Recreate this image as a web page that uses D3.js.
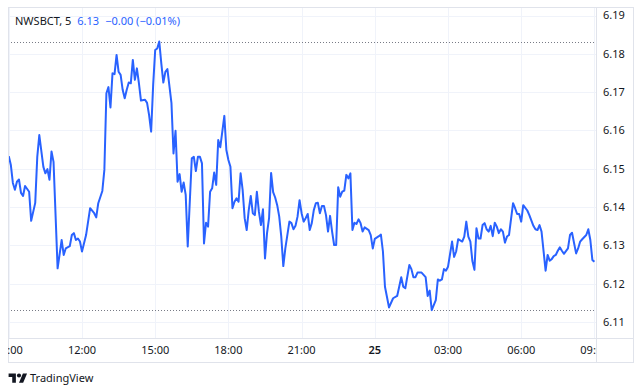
<!DOCTYPE html>
<html>
<head>
<meta charset="utf-8">
<script src="https://cdn.jsdelivr.net/npm/d3@7"></script>
<style>
  body { margin: 0; background: #fff; }
  svg { display: block; font-family: "Noto Sans", sans-serif; }
</style>
</head>
<body>
<svg width="640" height="391"></svg>
<script>
"use strict";

// 5분봉 종가 (시작 09:00 부터 경과 분, 값)
const minutes = [0, 5, 10, 15, 20, 25, 30, 35, 40, 50, 55, 65, 70, 75, 85, 90, 95, 100, 105, 110,
  120, 130, 135, 140, 150, 155, 160, 165, 170, 175, 180, 190, 200, 210, 215, 220, 230, 235, 240, 245,
  250, 255, 260, 265, 270, 275, 280, 285, 290, 295, 300, 305, 310, 315, 320, 325, 335, 340, 345, 350,
  355, 360, 365, 370, 375, 380, 385, 390, 400, 405, 410, 415, 420, 425, 430, 435, 440, 450, 455, 460,
  465, 470, 475, 480, 485, 490, 495, 500, 505, 510, 515, 520, 530, 535, 540, 545, 550, 555, 560, 565,
  570, 575, 580, 585, 590, 595, 600, 605, 610, 615, 620, 625, 630, 635, 640, 645, 650, 655, 660, 665,
  670, 675, 680, 690, 695, 700, 705, 710, 715, 720, 725, 730, 735, 740, 745, 750, 755, 760, 765, 770,
  775, 780, 785, 790, 795, 800, 805, 810, 815, 820, 825, 830, 835, 840, 845, 850, 855, 860, 865, 870,
  875, 885, 890, 895, 900, 910, 915, 920, 925, 935, 945, 955, 960, 965, 970, 975, 985, 990, 995, 1000,
  1005, 1015, 1025, 1030, 1035, 1040, 1050, 1055, 1060, 1065, 1070, 1075, 1080, 1090, 1095, 1100, 1105, 1115, 1120, 1125,
  1130, 1135, 1140, 1145, 1150, 1155, 1160, 1165, 1170, 1175, 1180, 1185, 1190, 1195, 1200, 1205, 1210, 1215, 1220, 1225,
  1230, 1240, 1245, 1250, 1255, 1260, 1265, 1275, 1280, 1290, 1295, 1300, 1305, 1310, 1320, 1325, 1330, 1335, 1340, 1345,
  1350, 1355, 1360, 1365, 1375, 1380, 1385, 1395, 1400, 1405, 1410, 1420, 1425, 1430, 1435, 1440];

const prices = [6.1533, 6.1510, 6.1463, 6.1445, 6.1466, 6.1472, 6.1437, 6.1429, 6.1455, 6.1440, 6.1364, 6.1411, 6.1531, 6.1588, 6.1505, 6.1488, 6.1499, 6.1471, 6.1545, 6.1518,
  6.1240, 6.1314, 6.1275, 6.1292, 6.1298, 6.1327, 6.1332, 6.1314, 6.1318, 6.1310, 6.1284, 6.1327, 6.1397, 6.1384, 6.1373, 6.1410, 6.1442, 6.1497, 6.1697, 6.1713,
  6.1660, 6.1749, 6.1747, 6.1797, 6.1753, 6.1745, 6.1706, 6.1684, 6.1706, 6.1725, 6.1723, 6.1784, 6.1732, 6.1762, 6.1723, 6.1678, 6.1680, 6.1672, 6.1640, 6.1597,
  6.1719, 6.1810, 6.1814, 6.1832, 6.1775, 6.1725, 6.1753, 6.1760, 6.1671, 6.1540, 6.1599, 6.1466, 6.1486, 6.1440, 6.1464, 6.1432, 6.1297, 6.1527, 6.1531, 6.1494,
  6.1531, 6.1531, 6.1514, 6.1305, 6.1359, 6.1349, 6.1440, 6.1449, 6.1490, 6.1458, 6.1575, 6.1556, 6.1638, 6.1549, 6.1523, 6.1505, 6.1397, 6.1414, 6.1423, 6.1414,
  6.1488, 6.1445, 6.1371, 6.1340, 6.1392, 6.1429, 6.1384, 6.1379, 6.1440, 6.1388, 6.1353, 6.1394, 6.1266, 6.1332, 6.1371, 6.1489, 6.1439, 6.1425, 6.1405, 6.1375,
  6.1323, 6.1246, 6.1292, 6.1362, 6.1358, 6.1342, 6.1351, 6.1375, 6.1418, 6.1384, 6.1362, 6.1371, 6.1382, 6.1340, 6.1358, 6.1392, 6.1410, 6.1411, 6.1384, 6.1403,
  6.1403, 6.1379, 6.1336, 6.1377, 6.1336, 6.1301, 6.1301, 6.1452, 6.1427, 6.1440, 6.1443, 6.1484, 6.1475, 6.1488, 6.1340, 6.1359, 6.1356, 6.1368, 6.1358, 6.1336,
  6.1347, 6.1340, 6.1327, 6.1292, 6.1317, 6.1324, 6.1328, 6.1284, 6.1192, 6.1138, 6.1162, 6.1168, 6.1192, 6.1217, 6.1192, 6.1188, 6.1249, 6.1238, 6.1217, 6.1217,
  6.1229, 6.1229, 6.1217, 6.1168, 6.1182, 6.1131, 6.1157, 6.1211, 6.1208, 6.1211, 6.1238, 6.1234, 6.1244, 6.1310, 6.1270, 6.1284, 6.1316, 6.1310, 6.1323, 6.1362,
  6.1323, 6.1310, 6.1259, 6.1236, 6.1345, 6.1318, 6.1318, 6.1353, 6.1358, 6.1342, 6.1336, 6.1351, 6.1324, 6.1359, 6.1349, 6.1332, 6.1342, 6.1336, 6.1307, 6.1323,
  6.1327, 6.1410, 6.1397, 6.1382, 6.1382, 6.1362, 6.1405, 6.1391, 6.1379, 6.1351, 6.1342, 6.1340, 6.1353, 6.1336, 6.1234, 6.1275, 6.1260, 6.1264, 6.1272, 6.1275,
  6.1286, 6.1295, 6.1286, 6.1278, 6.1292, 6.1327, 6.1333, 6.1279, 6.1292, 6.1310, 6.1316, 6.1327, 6.1342, 6.1314, 6.1262, 6.1257];

const priceTicks = [6.11, 6.12, 6.13, 6.14, 6.15, 6.16, 6.17, 6.18, 6.19];
const symbol = "NWSBCT, 5";
const lastText = "6.13";
const changeText = "\u22120.00 (\u22120.01%)";

const start = new Date(2024, 3, 24, 9, 0);
const data = minutes.map((m, i) => ({ t: d3.timeMinute.offset(start, m), v: prices[i] }));

// 레이아웃
const plotLeft = 8, plotTop = 7, plotRight = 596, frameRight = 633, plotBottom = 338, axisBottom = 362;
const blue = "#2962ff", ink = "#131722", grid = "#f0f3fa", border = "#e0e3eb";

const svg = d3.select("svg");

const x = d3.scaleTime()
  .domain([start, d3.timeHour.offset(start, 24)])
  .range([8.8, 594.4]);
const y = d3.scaleLinear()
  .domain([6.11, 6.19])
  .range([322, 15.5]);

svg.append("clipPath").attr("id", "plot")
  .append("rect").attr("x", plotLeft).attr("y", plotTop).attr("width", plotRight - plotLeft).attr("height", plotBottom - plotTop);
svg.append("clipPath").attr("id", "xaxis")
  .append("rect").attr("x", plotLeft).attr("y", plotBottom).attr("width", plotRight - plotLeft).attr("height", axisBottom - plotBottom);

const plot = svg.append("g").attr("clip-path", "url(#plot)");

// 격자
const timeTicks = d3.timeHour.every(3).range(start, d3.timeHour.offset(start, 25));
plot.selectAll(".vgrid").data(timeTicks).join("line")
  .attr("x1", d => Math.round(x(d)) + 0.5).attr("x2", d => Math.round(x(d)) + 0.5)
  .attr("y1", plotTop).attr("y2", plotBottom)
  .style("stroke", grid).style("stroke-width", 1);
plot.selectAll(".hgrid").data(priceTicks).join("line")
  .attr("x1", plotLeft).attr("x2", plotRight)
  .attr("y1", d => Math.round(y(d)) + 0.5).attr("y2", d => Math.round(y(d)) + 0.5)
  .style("stroke", grid).style("stroke-width", 1);

// 최고/최저 점선
[d3.max(prices), d3.min(prices)].forEach(v => {
  plot.append("line")
    .attr("x1", plotLeft).attr("x2", plotRight)
    .attr("y1", Math.round(y(v)) + 0.5).attr("y2", Math.round(y(v)) + 0.5)
    .style("stroke", "#787b86").style("stroke-width", 1).style("stroke-dasharray", "1,2");
});

// 가격 선
plot.append("path")
  .datum(data)
  .attr("d", d3.line().x(d => x(d.t)).y(d => y(d.v)))
  .style("fill", "none")
  .style("stroke", blue)
  .style("stroke-width", 2)
  .style("stroke-linejoin", "round");

// 테두리와 구분선
svg.append("rect")
  .attr("x", plotLeft + 0.5).attr("y", plotTop + 0.5)
  .attr("width", frameRight - plotLeft).attr("height", axisBottom - plotTop)
  .style("fill", "none").style("stroke", border);
svg.append("line")
  .attr("x1", plotRight + 0.5).attr("x2", plotRight + 0.5).attr("y1", plotTop).attr("y2", axisBottom)
  .style("stroke", border);
svg.append("line")
  .attr("x1", plotLeft).attr("x2", frameRight).attr("y1", plotBottom + 0.5).attr("y2", plotBottom + 0.5)
  .style("stroke", border);

// y축 라벨
svg.selectAll(".ylab").data(priceTicks).join("text")
  .attr("x", 614).attr("y", d => y(d))
  .attr("dy", "0.35em")
  .attr("text-anchor", "middle")
  .style("font-size", "11px").style("fill", ink)
  .text(d => d.toFixed(2));

// x축 라벨 (양 끝은 원본처럼 잘림)
const fmtDay = d3.timeFormat("%-d"), fmtTime = d3.timeFormat("%H:%M");
svg.append("g").attr("clip-path", "url(#xaxis)")
  .selectAll("text").data(timeTicks).join("text")
  .attr("x", d => x(d)).attr("y", 350)
  .attr("dy", "0.35em")
  .attr("text-anchor", "middle")
  .style("font-size", "11px").style("fill", ink)
  .style("font-weight", d => d.getHours() === 0 ? 600 : 400)
  .text(d => d.getHours() === 0 ? fmtDay(d) : fmtTime(d));

// 범례
const legend = svg.append("text").attr("x", 15).attr("y", 21).attr("dy", "0.35em")
  .style("font-size", "11px");
legend.append("tspan").style("fill", ink).text(symbol);
legend.append("tspan").attr("dx", 6).style("fill", blue).text(lastText);
legend.append("tspan").attr("dx", 6).style("fill", blue).text(changeText);

// 로고
const logo = svg.append("g").attr("transform", "translate(8.6,371.3) scale(0.52)").style("fill", ink);
logo.append("path").attr("d", "M14 22H7V11H0V4h14v18zM28 22h-8l7.5-18h8L28 22z");
logo.append("circle").attr("cx", 20).attr("cy", 8).attr("r", 4);
svg.append("text")
  .attr("x", 30).attr("y", 378.5).attr("dy", "0.35em")
  .style("font-size", "11px").style("fill", ink)
  .text("TradingView");
</script>
</body>
</html>
